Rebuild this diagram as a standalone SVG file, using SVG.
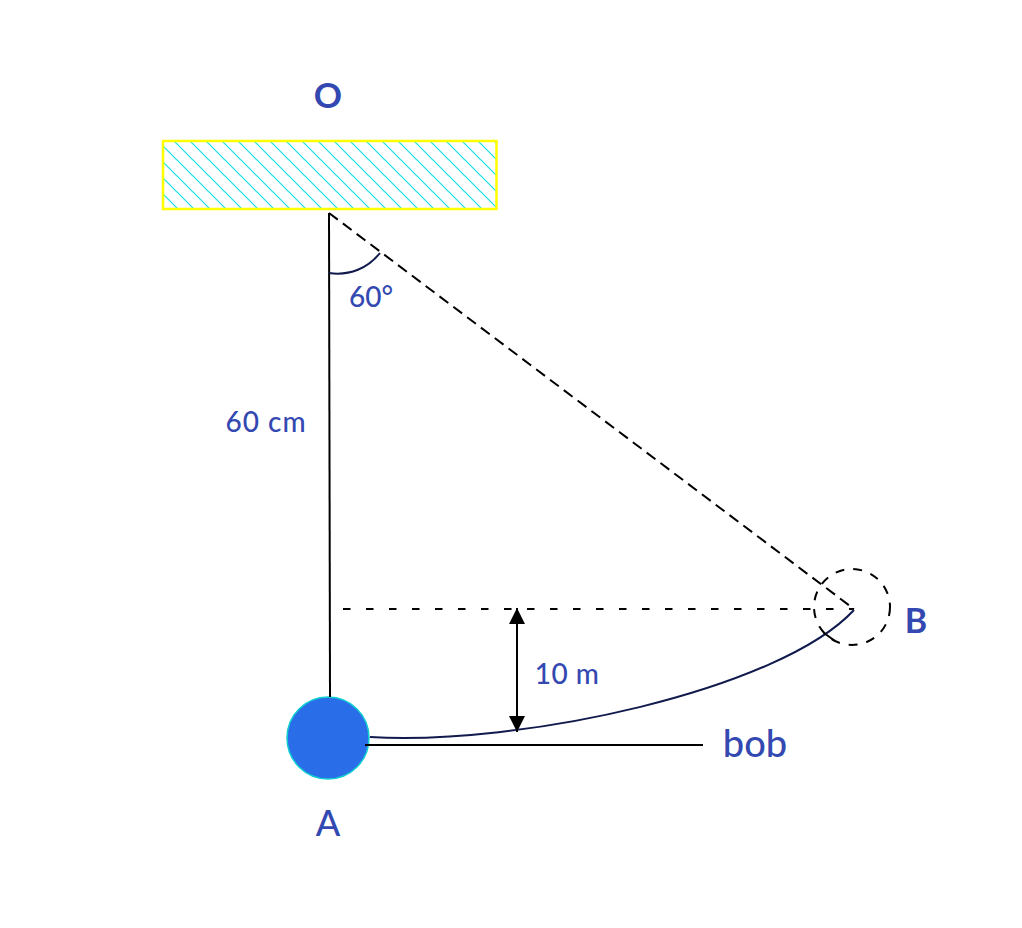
<svg xmlns="http://www.w3.org/2000/svg" width="1022" height="928" viewBox="0 0 1022 928">
<style>
.t{font-family:"Lato","Liberation Sans",sans-serif;fill:#3349b1;font-weight:500}
.k{fill:none;stroke:#000;stroke-width:2}
.d{fill:none;stroke:#000;stroke-width:2}
.n{fill:none;stroke:#101a4d;stroke-width:2}
</style>
<defs>
<pattern id="hatch" patternUnits="userSpaceOnUse" width="16" height="16" patternTransform="translate(1 0)">
<path d="M-4 -4L20 20M-4 12L4 20M12 -4L20 4" fill="none" stroke="#12dfe6" stroke-width="1.200"/>
</pattern>
<marker id="ah" markerUnits="userSpaceOnUse" markerWidth="16" markerHeight="16" refX="16" refY="8" orient="auto-start-reverse"><path d="M0 0L16 8L0 16Z" fill="#000"/></marker>
</defs>
<g id="ceiling"><rect x="163" y="141" width="333.500" height="68" fill="url(#hatch)" stroke="#ffff00" stroke-width="2.500"/></g>
<g id="bob"><circle cx="328" cy="738" r="41" fill="#2a6de8" stroke="#0fd0cf" stroke-width="1.500"/></g>
<g id="bobB"><circle cx="852" cy="607" r="38" class="d" stroke-dasharray="9 9"/></g>
<g id="connectors">
<path class="k" d="M329 213L330 697"/>
<path class="d" stroke-dasharray="11 6.300" d="M329 213L854 609"/>
<path class="d" stroke-dasharray="7.500 15.500" d="M343 609H854"/>
<path class="n" d="M329 273C350 276 368 268 380 253"/>
<path class="n" d="M370 737C520 746 780 690 854 610"/>
<path class="k" d="M824 633L835 641"/>
<path class="k" d="M365 745H703"/>
<path class="k" d="M517 608V732" marker-start="url(#ah)" marker-end="url(#ah)"/>
</g>
<g id="labels">
<text class="t" x="328" y="108" font-size="35" text-anchor="middle" style="font-weight:700">O</text>
<text class="t" x="371" y="307" font-size="28" text-anchor="middle">60°</text>
<text class="t" x="266" y="432" font-size="28" text-anchor="middle" letter-spacing="1">60 cm</text>
<text class="t" x="567" y="684" font-size="28" text-anchor="middle" letter-spacing="0.500">10 m</text>
<text class="t" x="916" y="633" font-size="34" text-anchor="middle" style="font-weight:700">B</text>
<text class="t" x="755" y="757" font-size="38" text-anchor="middle">bob</text>
<text class="t" x="328" y="836" font-size="36" text-anchor="middle">A</text>
</g>
</svg>
